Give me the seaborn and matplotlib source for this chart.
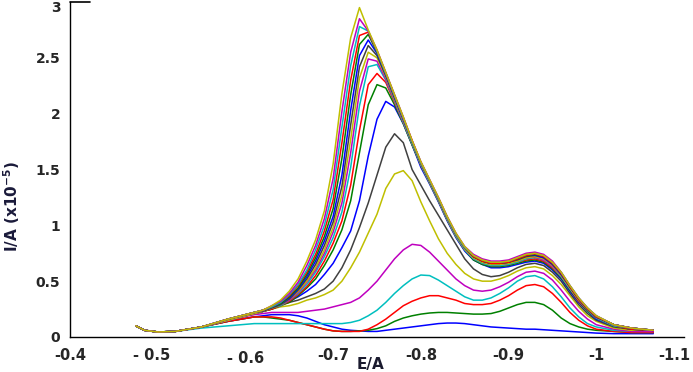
import matplotlib
matplotlib.use("Agg")
import matplotlib.pyplot as plt
import matplotlib.transforms as mtransforms
import seaborn as sns
import pandas as pd

# Potential grid (V)
E = [-0.475, -0.485, -0.50, -0.52, -0.55, -0.58, -0.61,
     -0.62, -0.63, -0.64, -0.65, -0.66, -0.67, -0.68, -0.69,
     -0.70, -0.71, -0.72, -0.73, -0.74, -0.75, -0.76, -0.77,
     -0.78, -0.79, -0.80, -0.81, -0.82, -0.83, -0.84, -0.85,
     -0.86, -0.87, -0.88, -0.89, -0.90, -0.91, -0.92, -0.93,
     -0.94, -0.95, -0.96, -0.97, -0.98, -0.99, -1.00,
     -1.02, -1.04, -1.065]

# Currents (x1e-5 A), lowest to highest concentration
c00 = [0.10, 0.06, 0.045, 0.05, 0.09, 0.14, 0.18,
       0.19, 0.20, 0.20, 0.20, 0.19, 0.17, 0.14, 0.11,
       0.09, 0.07, 0.06, 0.055, 0.05, 0.05, 0.06, 0.07,
       0.08, 0.09, 0.10, 0.11, 0.12, 0.125, 0.125, 0.12,
       0.11, 0.10, 0.09, 0.085, 0.08, 0.075, 0.07, 0.07,
       0.065, 0.06, 0.055, 0.05, 0.045, 0.04, 0.035,
       0.03, 0.03, 0.03]
c01 = [0.10, 0.06, 0.045, 0.05, 0.09, 0.14, 0.18,
       0.18, 0.17, 0.16, 0.15, 0.13, 0.11, 0.09, 0.07,
       0.055, 0.05, 0.05, 0.055, 0.06, 0.075, 0.10, 0.14,
       0.17, 0.19, 0.205, 0.215, 0.22, 0.22, 0.215, 0.21,
       0.205, 0.205, 0.21, 0.23, 0.26, 0.29, 0.31, 0.31,
       0.29, 0.24, 0.17, 0.12, 0.09, 0.07, 0.06,
       0.05, 0.04, 0.04]
c02 = [0.10, 0.06, 0.045, 0.05, 0.09, 0.14, 0.18,
       0.18, 0.18, 0.17, 0.15, 0.13, 0.11, 0.09, 0.07,
       0.055, 0.05, 0.05, 0.05, 0.07, 0.11, 0.16, 0.22,
       0.28, 0.32, 0.35, 0.37, 0.37, 0.35, 0.33, 0.30,
       0.29, 0.29, 0.30, 0.33, 0.37, 0.42, 0.46, 0.47,
       0.45, 0.39, 0.31, 0.22, 0.15, 0.10, 0.07,
       0.05, 0.04, 0.04]
c03 = [0.10, 0.06, 0.045, 0.05, 0.08, 0.10, 0.12,
       0.12, 0.12, 0.12, 0.12, 0.12, 0.12, 0.12, 0.12,
       0.12, 0.12, 0.13, 0.15, 0.19, 0.24, 0.31, 0.39,
       0.46, 0.52, 0.555, 0.55, 0.51, 0.46, 0.41, 0.36,
       0.33, 0.33, 0.35, 0.39, 0.44, 0.50, 0.54, 0.55,
       0.52, 0.45, 0.36, 0.26, 0.18, 0.12, 0.09,
       0.06, 0.05, 0.05]
c04 = [0.10, 0.06, 0.045, 0.05, 0.09, 0.15, 0.20,
       0.21, 0.22, 0.22, 0.22, 0.22, 0.23, 0.24, 0.25,
       0.27, 0.29, 0.31, 0.35, 0.42, 0.50, 0.60, 0.70,
       0.78, 0.83, 0.82, 0.76, 0.68, 0.60, 0.52, 0.46,
       0.42, 0.41, 0.42, 0.45, 0.49, 0.54, 0.58, 0.59,
       0.57, 0.51, 0.42, 0.32, 0.23, 0.16, 0.11,
       0.07, 0.05, 0.05]
c05 = [0.10, 0.06, 0.045, 0.05, 0.09, 0.15, 0.21,
       0.23, 0.25, 0.27, 0.28, 0.30, 0.33, 0.35, 0.38,
       0.42, 0.50, 0.62, 0.76, 0.93, 1.10, 1.33, 1.46,
       1.49, 1.40, 1.21, 1.04, 0.88, 0.75, 0.65, 0.57,
       0.52, 0.50, 0.50, 0.52, 0.55, 0.59, 0.62, 0.63,
       0.61, 0.55, 0.47, 0.37, 0.27, 0.19, 0.14,
       0.08, 0.06, 0.06]
c06 = [0.10, 0.06, 0.045, 0.05, 0.09, 0.15, 0.21,
       0.23, 0.25, 0.29, 0.31, 0.33, 0.36, 0.39, 0.43,
       0.50, 0.62, 0.78, 0.98, 1.20, 1.45, 1.70, 1.82,
       1.74, 1.50, 1.36, 1.22, 1.09, 0.96, 0.83, 0.70,
       0.61, 0.56, 0.54, 0.55, 0.58, 0.62, 0.65, 0.66,
       0.64, 0.58, 0.50, 0.39, 0.29, 0.21, 0.15,
       0.09, 0.07, 0.06]
c07 = [0.10, 0.06, 0.045, 0.05, 0.09, 0.15, 0.21,
       0.23, 0.26, 0.29, 0.32, 0.36, 0.41, 0.47, 0.56,
       0.66, 0.80, 0.95, 1.22, 1.62, 1.95, 2.11, 2.06,
       1.91, 1.72, 1.52, 1.37, 1.21, 1.04, 0.89, 0.77,
       0.69, 0.65, 0.62, 0.62, 0.63, 0.65, 0.67, 0.68,
       0.66, 0.60, 0.52, 0.41, 0.31, 0.23, 0.16,
       0.10, 0.07, 0.06]
c08 = [0.10, 0.06, 0.045, 0.05, 0.09, 0.15, 0.21,
       0.23, 0.25, 0.28, 0.31, 0.37, 0.44, 0.52, 0.64,
       0.78, 0.96, 1.22, 1.65, 2.08, 2.26, 2.23, 2.08,
       1.91, 1.72, 1.54, 1.38, 1.22, 1.05, 0.90, 0.78,
       0.69, 0.65, 0.63, 0.63, 0.64, 0.66, 0.68, 0.69,
       0.67, 0.61, 0.53, 0.42, 0.32, 0.23, 0.17,
       0.10, 0.07, 0.06]
c09 = [0.10, 0.06, 0.045, 0.05, 0.09, 0.15, 0.21,
       0.23, 0.25, 0.28, 0.32, 0.38, 0.45, 0.55, 0.68,
       0.84, 1.04, 1.36, 1.85, 2.26, 2.36, 2.28, 2.10,
       1.92, 1.73, 1.54, 1.38, 1.22, 1.05, 0.90, 0.78,
       0.70, 0.66, 0.64, 0.64, 0.65, 0.67, 0.69, 0.70,
       0.68, 0.62, 0.54, 0.43, 0.32, 0.24, 0.17,
       0.10, 0.07, 0.06]
c10 = [0.10, 0.06, 0.045, 0.05, 0.09, 0.15, 0.21,
       0.23, 0.26, 0.28, 0.33, 0.39, 0.47, 0.58, 0.72,
       0.89, 1.12, 1.52, 2.07, 2.42, 2.44, 2.30, 2.11,
       1.92, 1.73, 1.54, 1.38, 1.22, 1.05, 0.90, 0.78,
       0.70, 0.66, 0.64, 0.64, 0.65, 0.67, 0.70, 0.71,
       0.69, 0.63, 0.54, 0.43, 0.33, 0.24, 0.17,
       0.10, 0.08, 0.06]
c11 = [0.10, 0.06, 0.045, 0.05, 0.09, 0.15, 0.21,
       0.23, 0.26, 0.29, 0.33, 0.40, 0.49, 0.60, 0.75,
       0.94, 1.20, 1.65, 2.20, 2.49, 2.47, 2.31, 2.12,
       1.93, 1.74, 1.55, 1.39, 1.23, 1.06, 0.91, 0.79,
       0.71, 0.67, 0.65, 0.65, 0.66, 0.68, 0.71, 0.715,
       0.69, 0.63, 0.55, 0.44, 0.33, 0.25, 0.18,
       0.11, 0.08, 0.06]
c12 = [0.10, 0.06, 0.045, 0.05, 0.09, 0.15, 0.21,
       0.23, 0.26, 0.29, 0.34, 0.41, 0.50, 0.62, 0.78,
       0.98, 1.27, 1.77, 2.32, 2.55, 2.50, 2.33, 2.13,
       1.94, 1.74, 1.55, 1.39, 1.23, 1.06, 0.91, 0.79,
       0.71, 0.67, 0.65, 0.65, 0.66, 0.68, 0.71, 0.72,
       0.70, 0.64, 0.55, 0.44, 0.33, 0.25, 0.18,
       0.11, 0.08, 0.06]
c13 = [0.10, 0.06, 0.045, 0.05, 0.09, 0.16, 0.22,
       0.23, 0.26, 0.29, 0.34, 0.42, 0.52, 0.65, 0.82,
       1.03, 1.35, 1.90, 2.42, 2.61, 2.52, 2.34, 2.14,
       1.95, 1.75, 1.56, 1.40, 1.24, 1.07, 0.92, 0.80,
       0.72, 0.68, 0.66, 0.66, 0.67, 0.69, 0.72, 0.73,
       0.71, 0.65, 0.56, 0.45, 0.34, 0.25, 0.18,
       0.11, 0.08, 0.06]
c14 = [0.10, 0.06, 0.045, 0.05, 0.09, 0.16, 0.22,
       0.24, 0.27, 0.30, 0.35, 0.43, 0.54, 0.68, 0.86,
       1.08, 1.45, 2.03, 2.52, 2.66, 2.54, 2.35, 2.15,
       1.95, 1.75, 1.56, 1.40, 1.24, 1.07, 0.92, 0.80,
       0.72, 0.68, 0.66, 0.66, 0.67, 0.70, 0.73, 0.735,
       0.71, 0.65, 0.56, 0.45, 0.34, 0.25, 0.18,
       0.11, 0.08, 0.06]
c15 = [0.10, 0.06, 0.045, 0.05, 0.09, 0.16, 0.22,
       0.24, 0.27, 0.30, 0.36, 0.44, 0.56, 0.71, 0.90,
       1.15, 1.60, 2.17, 2.62, 2.71, 2.55, 2.36, 2.16,
       1.96, 1.75, 1.56, 1.40, 1.24, 1.07, 0.92, 0.80,
       0.72, 0.68, 0.66, 0.66, 0.67, 0.70, 0.73, 0.74,
       0.72, 0.66, 0.57, 0.45, 0.34, 0.25, 0.18,
       0.11, 0.08, 0.06]
c16 = [0.10, 0.06, 0.045, 0.05, 0.09, 0.16, 0.22,
       0.24, 0.27, 0.31, 0.37, 0.46, 0.58, 0.74, 0.95,
       1.23, 1.74, 2.30, 2.70, 2.73, 2.56, 2.36, 2.16,
       1.96, 1.76, 1.56, 1.40, 1.24, 1.07, 0.92, 0.80,
       0.72, 0.68, 0.66, 0.66, 0.67, 0.70, 0.73, 0.745,
       0.72, 0.66, 0.57, 0.45, 0.34, 0.25, 0.18,
       0.11, 0.08, 0.06]
c17 = [0.10, 0.06, 0.045, 0.05, 0.09, 0.16, 0.22,
       0.24, 0.27, 0.31, 0.38, 0.47, 0.60, 0.78, 1.00,
       1.32, 1.88, 2.43, 2.78, 2.74, 2.56, 2.36, 2.16,
       1.96, 1.75, 1.56, 1.40, 1.24, 1.07, 0.92, 0.80,
       0.73, 0.69, 0.67, 0.67, 0.68, 0.71, 0.74, 0.75,
       0.73, 0.67, 0.58, 0.46, 0.35, 0.26, 0.19,
       0.11, 0.08, 0.06]
c18 = [0.10, 0.06, 0.045, 0.05, 0.09, 0.16, 0.22,
       0.24, 0.28, 0.32, 0.39, 0.49, 0.64, 0.82, 1.06,
       1.42, 2.02, 2.55, 2.85, 2.74, 2.57, 2.37, 2.17,
       1.97, 1.76, 1.57, 1.41, 1.25, 1.08, 0.93, 0.81,
       0.74, 0.70, 0.68, 0.68, 0.69, 0.72, 0.75, 0.76,
       0.74, 0.68, 0.58, 0.46, 0.35, 0.26, 0.19,
       0.11, 0.08, 0.06]
c19 = [0.10, 0.06, 0.045, 0.05, 0.09, 0.16, 0.22,
       0.24, 0.28, 0.33, 0.41, 0.52, 0.68, 0.87, 1.13,
       1.55, 2.18, 2.68, 2.95, 2.75, 2.57, 2.37, 2.17,
       1.97, 1.76, 1.57, 1.41, 1.25, 1.08, 0.93, 0.81,
       0.73, 0.69, 0.67, 0.67, 0.68, 0.71, 0.74, 0.75,
       0.73, 0.67, 0.58, 0.46, 0.35, 0.26, 0.19,
       0.11, 0.08, 0.06]

curves = [c00, c01, c02, c03, c04, c05, c06, c07, c08, c09,
          c10, c11, c12, c13, c14, c15, c16, c17, c18, c19]

# MATLAB-style colour cycle
cycle = ["#0000ff", "#008000", "#ff0000", "#00bfbf",
         "#bf00bf", "#bfbf00", "#404040"]

x_ticks = [-0.4, -0.5, -0.6, -0.7, -0.8, -0.9, -1.0, -1.1]
x_tick_labels = ["-0.4", "- 0.5", "- 0.6", "-0.7", "-0.8", "-0.9", "-1", "-1.1"]
y_ticks = [0, 0.5, 1, 1.5, 2, 2.5, 3]
y_tick_labels = ["0", "0.5", "1", "1.5", "2", "2.5", "3"]

rows = []
for i, c in enumerate(curves):
    for e, v in zip(E, c):
        rows.append({"E": e, "I": v, "curve": f"c{i:02d}"})
df = pd.DataFrame(rows)
palette = {f"c{i:02d}": cycle[i % len(cycle)] for i in range(len(curves))}

sns.set_style("white")
plt.rcParams["font.family"] = ["DejaVu Sans"]
plt.rcParams["mathtext.default"] = "bf"

fig = plt.figure(figsize=(6.93, 3.72), dpi=100)
ax = fig.add_axes([70 / 693, 1 - 337 / 372, 614 / 693, 335 / 372])

sns.lineplot(data=df, x="E", y="I", hue="curve", palette=palette,
             estimator=None, sort=False, legend=False, linewidth=1.1, ax=ax)

ax.set_xlim(-0.4, -1.1)
ax.set_ylim(0, 3)
ax.set_xticks(x_ticks)
ax.set_xticklabels(x_tick_labels, fontsize=10.5, fontweight="bold")
ax.set_yticks(y_ticks)
ax.set_yticklabels(y_tick_labels, fontsize=10, fontweight="bold")
ax.tick_params(axis="x", direction="out", length=7, width=1, pad=1, color="black")
ax.tick_params(axis="y", direction="out", length=5, width=1, pad=2, color="black")

# small per-label offsets as in the reference
def shift(label, dx_px, dy_px):
    off = mtransforms.ScaledTranslation(dx_px / 100, dy_px / 100, fig.dpi_scale_trans)
    label.set_transform(label.get_transform() + off)

xl = ax.get_xticklabels()
shift(xl[1], -6, 0)
shift(xl[2], 0, -3)
shift(xl[7], -10, 0)
yl = ax.get_yticklabels()
shift(yl[6], 0, -5)

for s in ["top", "right"]:
    ax.spines[s].set_visible(False)
for s in ["left", "bottom"]:
    ax.spines[s].set_color("black")
    ax.spines[s].set_linewidth(1.0)

ax.axhline(3, xmin=0, xmax=0.033, color="black", lw=1.2, clip_on=False)

ax.set_xlabel("E/A", fontsize=11, fontweight="bold", color="#1a1a2e")
ax.set_ylabel("I/A (x10$^{-5}$)", fontsize=11, fontweight="bold", color="#1a1a3a")
ax.yaxis.set_label_coords(-0.078, 0.39)
ax.xaxis.set_label_coords(0.49, -0.06)

fig.savefig("out.png", dpi=100, facecolor="white")
